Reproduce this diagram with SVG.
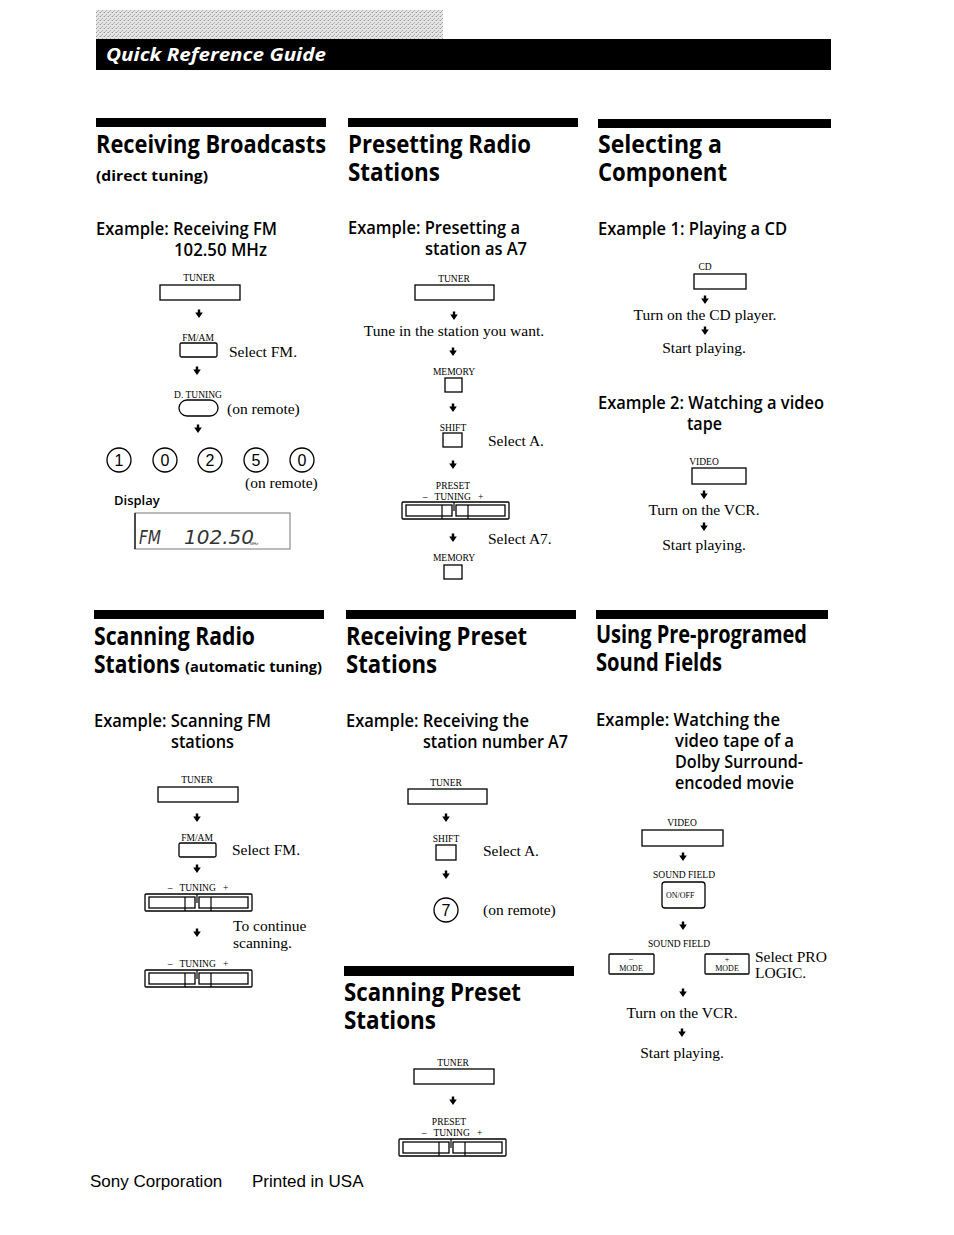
<svg xmlns="http://www.w3.org/2000/svg" xmlns:xlink="http://www.w3.org/1999/xlink" width="954" height="1235" viewBox="0 0 954 1235">
<style>
.ttl{font-family:"Open Sans","Liberation Sans Narrow","DejaVu Sans Condensed",sans-serif;font-weight:700;font-size:25.5px;fill:#000}
.sub{font-family:"Open Sans","Liberation Sans Narrow",sans-serif;font-weight:700;font-size:15px;fill:#000}
.ex{font-family:"Open Sans","Liberation Sans Narrow",sans-serif;font-weight:600;font-size:17.5px;fill:#000}
.sm{font-family:"Liberation Serif","DejaVu Serif",serif;font-size:9.5px;fill:#000}
.tiny{font-family:"Liberation Serif","DejaVu Serif",serif;font-size:8px;fill:#000}
.bd{font-family:"Liberation Serif","DejaVu Serif",serif;font-size:15.5px;fill:#000}
.dig{font-family:"Liberation Sans",sans-serif;font-size:16px;fill:#000}
.ft{font-family:"Liberation Sans","Arial",sans-serif;font-size:17px;fill:#000}
.mid{text-anchor:middle}
.box{fill:none;stroke:#000;stroke-width:1.3}
.bar{fill:#000}
</style>
<defs>
<pattern id="dither" width="4" height="4" patternUnits="userSpaceOnUse">
<rect width="4" height="4" fill="#e0e0e0"/>
<rect x="0" y="0" width="1" height="1" fill="#888"/>
<rect x="2" y="2" width="1" height="1" fill="#999"/>
<rect x="3" y="0" width="1" height="1" fill="#bbb"/>
<rect x="1" y="3" width="1" height="1" fill="#aaa"/>
</pattern>
<path id="arr" d="M-1.2,-4.5 h2.4 v3 h2.6 l-3.8,5.5 l-3.8,-5.5 h2.6 z" fill="#000"/>
<g id="rocker">
<rect x="0" y="0" width="107" height="17" rx="1" class="box"/>
<rect x="4" y="3" width="46" height="11" class="box" stroke-width="1"/>
<rect x="54" y="3" width="49" height="11" class="box" stroke-width="1"/>
<line x1="40" y1="3" x2="40" y2="17" stroke="#000" stroke-width="1.2"/>
<line x1="66" y1="3" x2="66" y2="17" stroke="#000" stroke-width="1.2"/>
<line x1="52" y1="0" x2="52" y2="9" stroke="#000" stroke-width="1.2"/>
</g>
</defs>
<rect width="954" height="1235" fill="#fff"/>

<g id="header">
<rect x="96" y="10" width="347" height="29" fill="url(#dither)" opacity="0.85"/>
<rect x="96" y="39" width="735" height="31" fill="#000"/>
<text x="106" y="61" font-family="Open Sans,Liberation Sans,sans-serif" font-weight="700" font-style="italic" font-size="18" fill="#fff" textLength="220" lengthAdjust="spacingAndGlyphs">Quick Reference Guide</text>
</g>

<!-- Section 1: Receiving Broadcasts -->
<g id="sec-receiving-broadcasts">
<rect class="bar" x="96" y="118" width="230" height="9"/>
<text class="ttl" x="96" y="153" textLength="230" lengthAdjust="spacingAndGlyphs">Receiving Broadcasts</text>
<text class="sub" x="96" y="181" textLength="112" lengthAdjust="spacingAndGlyphs">(direct tuning)</text>
<text class="ex" x="96" y="235" textLength="181" lengthAdjust="spacingAndGlyphs">Example: Receiving FM</text>
<text class="ex" x="174" y="256" textLength="93" lengthAdjust="spacingAndGlyphs">102.50 MHz</text>
</g>
<g id="rb-tuner">
<text class="sm mid" x="199" y="281">TUNER</text>
<rect class="box" x="160" y="285" width="80" height="15"/>
</g>
<g id="rb-fmam">
<text class="sm mid" x="198" y="341">FM/AM</text>
<rect class="box" x="180" y="343" width="37" height="14" rx="1.5"/>
<text class="bd" x="229" y="357">Select FM.</text>
</g>
<g id="rb-dtuning">
<text class="sm mid" x="198" y="398">D. TUNING</text>
<rect class="box" x="179" y="400" width="39" height="16" rx="8"/>
<text class="bd" x="227" y="414">(on remote)</text>
</g>
<g id="rb-digits">
<circle class="box" cx="119" cy="460" r="12"/><text class="dig mid" x="119" y="466">1</text>
<circle class="box" cx="165" cy="460" r="12"/><text class="dig mid" x="165" y="466">0</text>
<circle class="box" cx="210" cy="460" r="12"/><text class="dig mid" x="210" y="466">2</text>
<circle class="box" cx="256" cy="460" r="12"/><text class="dig mid" x="256" y="466">5</text>
<circle class="box" cx="302" cy="460" r="12"/><text class="dig mid" x="302" y="466">0</text>
<text class="bd" x="245" y="488">(on remote)</text>
</g>
<g id="rb-display">
<text x="114" y="505" font-family="Open Sans,Liberation Sans,sans-serif" font-weight="600" font-size="13" fill="#000">Display</text>
<rect x="135" y="513" width="155" height="36" fill="none" stroke="#777" stroke-width="1"/>
<line x1="135" y1="513" x2="135" y2="549" stroke="#000" stroke-width="1.2"/>
<text x="139" y="544" font-family="DejaVu Sans,Liberation Sans,sans-serif" font-style="italic" font-weight="300" font-size="19" fill="#333" textLength="22" lengthAdjust="spacingAndGlyphs">FM</text>
<text x="184" y="544" font-family="DejaVu Sans,Liberation Sans,sans-serif" font-style="italic" font-weight="300" font-size="19" fill="#333" textLength="70" lengthAdjust="spacingAndGlyphs">102.50</text>
<text x="250" y="545" font-family="Liberation Sans,sans-serif" font-size="4" fill="#333">MHz</text>
</g>

<!-- Section 2: Presetting Radio Stations -->
<g id="sec-presetting">
<rect class="bar" x="348" y="118" width="230" height="9"/>
<text class="ttl" x="348" y="153" textLength="183" lengthAdjust="spacingAndGlyphs">Presetting Radio</text>
<text class="ttl" x="348" y="181" textLength="92" lengthAdjust="spacingAndGlyphs">Stations</text>
<text class="ex" x="348" y="234" textLength="172" lengthAdjust="spacingAndGlyphs">Example: Presetting a</text>
<text class="ex" x="425" y="255" textLength="102" lengthAdjust="spacingAndGlyphs">station as A7</text>
</g>
<g id="pr-tuner">
<text class="sm mid" x="454" y="282">TUNER</text>
<rect class="box" x="415" y="285" width="79" height="15"/>
</g>
<g id="pr-tune">
<text class="bd mid" x="454" y="336">Tune in the station you want.</text>
</g>
<g id="pr-memory1">
<text class="sm mid" x="454" y="375">MEMORY</text>
<rect class="box" x="445" y="378" width="17" height="14"/>
</g>
<g id="pr-shift">
<text class="sm mid" x="453" y="431">SHIFT</text>
<rect class="box" x="443" y="433" width="19" height="14"/>
<text class="bd" x="488" y="446">Select A.</text>
</g>
<g id="pr-preset">
<text class="sm mid" x="453" y="489">PRESET</text>
<text class="sm mid" x="453" y="500" xml:space="preserve">–   TUNING   +</text>
<use xlink:href="#rocker" x="402" y="502"/>
</g>
<g id="pr-selecta7">
<text class="bd" x="488" y="544">Select A7.</text>
</g>
<g id="pr-memory2">
<text class="sm mid" x="454" y="561">MEMORY</text>
<rect class="box" x="444" y="565" width="18" height="14"/>
</g>

<!-- Section 3: Selecting a Component -->
<g id="sec-selecting">
<rect class="bar" x="598" y="119" width="233" height="9"/>
<text class="ttl" x="598" y="153" textLength="124" lengthAdjust="spacingAndGlyphs">Selecting a</text>
<text class="ttl" x="598" y="181" textLength="129" lengthAdjust="spacingAndGlyphs">Component</text>
<text class="ex" x="598" y="235" textLength="189" lengthAdjust="spacingAndGlyphs">Example 1: Playing a CD</text>
<text class="ex" x="598" y="409" textLength="226" lengthAdjust="spacingAndGlyphs">Example 2: Watching a video</text>
<text class="ex" x="687" y="430" textLength="35" lengthAdjust="spacingAndGlyphs">tape</text>
</g>
<g id="sc-cd">
<text class="sm mid" x="705" y="270">CD</text>
<rect class="box" x="694" y="274" width="52" height="15"/>
</g>
<g id="sc-cdon"><text class="bd mid" x="705" y="320">Turn on the CD player.</text></g>
<g id="sc-cdplay"><text class="bd mid" x="704" y="353">Start playing.</text></g>
<g id="sc-video">
<text class="sm mid" x="704" y="465">VIDEO</text>
<rect class="box" x="692" y="468" width="54" height="16"/>
</g>
<g id="sc-vcron"><text class="bd mid" x="704" y="515">Turn on the VCR.</text></g>
<g id="sc-vcrplay"><text class="bd mid" x="704" y="550">Start playing.</text></g>

<!-- Section 4: Scanning Radio Stations -->
<g id="sec-scanning-radio">
<rect class="bar" x="94" y="610" width="230" height="9"/>
<text class="ttl" x="94" y="645" textLength="161" lengthAdjust="spacingAndGlyphs">Scanning Radio</text>
<text class="ttl" x="94" y="673" textLength="86" lengthAdjust="spacingAndGlyphs">Stations</text>
<text class="sub" x="185" y="672" font-size="16" textLength="137" lengthAdjust="spacingAndGlyphs">(automatic tuning)</text>
<text class="ex" x="94" y="727" textLength="177" lengthAdjust="spacingAndGlyphs">Example: Scanning FM</text>
<text class="ex" x="171" y="748" textLength="63" lengthAdjust="spacingAndGlyphs">stations</text>
</g>
<g id="sr-tuner">
<text class="sm mid" x="197" y="783">TUNER</text>
<rect class="box" x="158" y="787" width="80" height="15"/>
</g>
<g id="sr-fmam">
<text class="sm mid" x="197" y="841">FM/AM</text>
<rect class="box" x="179" y="843" width="37" height="14" rx="1.5"/>
<text class="bd" x="232" y="855">Select FM.</text>
</g>
<g id="sr-tuning1">
<text class="sm mid" x="198" y="891" xml:space="preserve">–   TUNING   +</text>
<use xlink:href="#rocker" x="145" y="894"/>
</g>
<g id="sr-continue">
<text class="bd" x="233" y="931">To continue</text>
<text class="bd" x="233" y="948">scanning.</text>
</g>
<g id="sr-tuning2">
<text class="sm mid" x="198" y="967" xml:space="preserve">–   TUNING   +</text>
<use xlink:href="#rocker" x="145" y="970"/>
</g>

<!-- Section 5: Receiving Preset Stations -->
<g id="sec-receiving-preset">
<rect class="bar" x="346" y="610" width="230" height="9"/>
<text class="ttl" x="346" y="645" textLength="181" lengthAdjust="spacingAndGlyphs">Receiving Preset</text>
<text class="ttl" x="346" y="673" textLength="91" lengthAdjust="spacingAndGlyphs">Stations</text>
<text class="ex" x="346" y="727" textLength="183" lengthAdjust="spacingAndGlyphs">Example: Receiving the</text>
<text class="ex" x="423" y="748" textLength="145" lengthAdjust="spacingAndGlyphs">station number A7</text>
</g>
<g id="rp-tuner">
<text class="sm mid" x="446" y="786">TUNER</text>
<rect class="box" x="408" y="789" width="79" height="15"/>
</g>
<g id="rp-shift">
<text class="sm mid" x="446" y="842">SHIFT</text>
<rect class="box" x="436" y="845" width="20" height="15"/>
<text class="bd" x="483" y="856">Select A.</text>
</g>
<g id="rp-seven">
<circle class="box" cx="446" cy="910" r="12"/><text class="dig mid" x="446" y="916">7</text>
<text class="bd" x="483" y="915">(on remote)</text>
</g>

<!-- Section 6: Scanning Preset Stations -->
<g id="sec-scanning-preset">
<rect class="bar" x="344" y="966" width="230" height="10"/>
<text class="ttl" x="344" y="1001" textLength="177" lengthAdjust="spacingAndGlyphs">Scanning Preset</text>
<text class="ttl" x="344" y="1029" textLength="92" lengthAdjust="spacingAndGlyphs">Stations</text>
</g>
<g id="sp-tuner">
<text class="sm mid" x="453" y="1066">TUNER</text>
<rect class="box" x="414" y="1069" width="80" height="15"/>
</g>
<g id="sp-preset">
<text class="sm mid" x="449" y="1125">PRESET</text>
<text class="sm mid" x="452" y="1136" xml:space="preserve">–   TUNING   +</text>
<use xlink:href="#rocker" x="399" y="1139"/>
</g>

<!-- Section 7: Using Pre-programed Sound Fields -->
<g id="sec-sound-fields">
<rect class="bar" x="596" y="610" width="232" height="9"/>
<text class="ttl" x="596" y="643" textLength="211" lengthAdjust="spacingAndGlyphs">Using Pre-programed</text>
<text class="ttl" x="596" y="671" textLength="126" lengthAdjust="spacingAndGlyphs">Sound Fields</text>
<text class="ex" x="596" y="726" textLength="184" lengthAdjust="spacingAndGlyphs">Example: Watching the</text>
<text class="ex" x="675" y="747" textLength="119" lengthAdjust="spacingAndGlyphs">video tape of a</text>
<text class="ex" x="675" y="768" textLength="128" lengthAdjust="spacingAndGlyphs">Dolby Surround-</text>
<text class="ex" x="675" y="789" textLength="119" lengthAdjust="spacingAndGlyphs">encoded movie</text>
</g>
<g id="sf-video">
<text class="sm mid" x="682" y="826">VIDEO</text>
<rect class="box" x="642" y="830" width="81" height="16"/>
</g>
<g id="sf-onoff">
<text class="sm mid" x="684" y="878">SOUND FIELD</text>
<rect class="box" x="662" y="882" width="43" height="26" rx="3"/>
<text class="tiny" x="666" y="898">ON/OFF</text>
</g>
<g id="sf-mode">
<text class="sm mid" x="679" y="947">SOUND FIELD</text>
<rect class="box" x="609" y="954" width="45" height="20" rx="1"/>
<text class="tiny mid" x="631" y="961">–</text>
<text class="tiny mid" x="631" y="971">MODE</text>
<rect class="box" x="705" y="954" width="44" height="20" rx="1"/>
<text class="tiny mid" x="727" y="962">+</text>
<text class="tiny mid" x="727" y="971">MODE</text>
<text class="bd" x="755" y="962">Select PRO</text>
<text class="bd" x="755" y="978">LOGIC.</text>
</g>
<g id="sf-vcron"><text class="bd mid" x="682" y="1018">Turn on the VCR.</text></g>
<g id="sf-play"><text class="bd mid" x="682" y="1058">Start playing.</text></g>

<g id="connectors">
<use xlink:href="#arr" x="199" y="314"/>
<use xlink:href="#arr" x="197" y="371"/>
<use xlink:href="#arr" x="198" y="429"/>
<use xlink:href="#arr" x="454" y="316"/>
<use xlink:href="#arr" x="453" y="352"/>
<use xlink:href="#arr" x="453" y="408"/>
<use xlink:href="#arr" x="453" y="465"/>
<use xlink:href="#arr" x="453" y="538"/>
<use xlink:href="#arr" x="705" y="300"/>
<use xlink:href="#arr" x="705" y="331"/>
<use xlink:href="#arr" x="704" y="495"/>
<use xlink:href="#arr" x="704" y="527"/>
<use xlink:href="#arr" x="197" y="818"/>
<use xlink:href="#arr" x="197" y="869"/>
<use xlink:href="#arr" x="197" y="933"/>
<use xlink:href="#arr" x="446" y="818"/>
<use xlink:href="#arr" x="446" y="875"/>
<use xlink:href="#arr" x="453" y="1101"/>
<use xlink:href="#arr" x="683" y="857"/>
<use xlink:href="#arr" x="683" y="926"/>
<use xlink:href="#arr" x="683" y="993"/>
<use xlink:href="#arr" x="682" y="1033"/>
</g>

<g id="footer">
<text class="ft" x="90" y="1187">Sony Corporation</text>
<text class="ft" x="252" y="1187">Printed in USA</text>
</g>
</svg>
